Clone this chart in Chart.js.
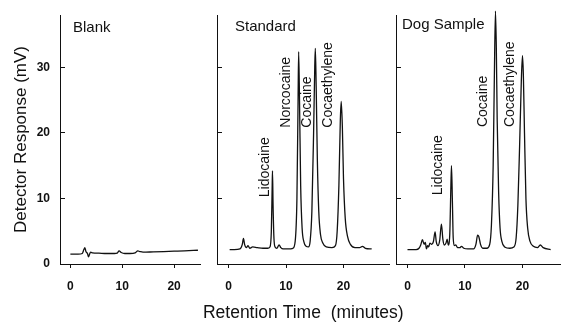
<!DOCTYPE html>
<html><head><meta charset="utf-8">
<script src="https://cdn.jsdelivr.net/npm/chart.js@4.4.1/dist/chart.umd.min.js"></script>
<style>
html,body{margin:0;padding:0;background:#fff;}
#wrap{position:relative;width:561px;height:324px;overflow:hidden;background:#fff;}
.p{position:absolute;top:0;}
canvas{display:block;}
</style></head><body>
<div id="wrap">
  <div class="p" style="left:0px"><canvas id="c1" width="205" height="324"></canvas></div>
  <div class="p" style="left:392px"><canvas id="c3" width="169" height="324"></canvas></div>
  <div class="p" style="left:105px"><canvas id="c2" width="360" height="324"></canvas></div>
</div>
<script>
// ---------- data ----------
const xTicks = [0, 10, 20];
const yTicks = [0, 10, 20, 30];
const panelTitles = ['Blank', 'Standard', 'Dog Sample'];

const blankTime = [0.0, 1.5, 2.3, 2.6, 2.8, 3.0, 3.3, 3.5, 3.7, 3.9, 4.3, 5.5, 7.0, 8.5, 9.0, 9.4, 9.8, 10.5, 11.5, 12.5, 13.0, 13.4, 14.0, 16.0, 18.0, 20.0, 22.0, 24.6];
const blankResp = [1.5, 1.5, 1.6, 2.2, 2.5, 1.9, 1.6, 1.1, 1.5, 1.8, 1.7, 1.65, 1.6, 1.6, 1.65, 2.0, 1.75, 1.6, 1.6, 1.7, 2.0, 1.9, 1.8, 1.85, 1.9, 1.95, 2.0, 2.1];

const standardTime = [0.2, 1.0, 2.0, 2.4, 2.6, 2.8, 3.1, 3.4, 3.7, 4.2, 5.0, 6.0, 6.8, 7.2, 7.45, 7.6, 7.65, 7.75, 7.9, 8.1, 8.4, 8.8, 9.1, 9.5, 10.5, 11.2, 11.6, 11.9, 12.1, 12.2, 12.35, 12.55, 12.8, 13.1, 13.5, 13.9, 14.2, 14.5, 14.8, 15.0, 15.1, 15.25, 15.45, 15.7, 16.0, 16.4, 17.0, 18.0, 18.6, 18.9, 19.2, 19.45, 19.6, 19.8, 20.0, 20.3, 20.7, 21.2, 22.0, 22.8, 23.3, 23.8, 24.9];
const standardResp = [2.2, 2.2, 2.3, 3.0, 3.9, 3.0, 2.5, 2.8, 2.4, 2.6, 2.5, 2.4, 2.4, 2.6, 5.0, 12.0, 14.2, 9.0, 4.0, 2.6, 2.4, 2.9, 2.5, 2.3, 2.3, 2.4, 3.5, 10.0, 25.0, 32.4, 25.0, 12.0, 5.5, 3.4, 2.7, 2.6, 3.5, 8.0, 20.0, 30.0, 32.9, 27.0, 16.0, 8.0, 4.5, 3.2, 2.6, 2.5, 2.8, 5.0, 12.0, 22.0, 24.8, 21.0, 13.0, 7.0, 4.2, 3.0, 2.5, 2.5, 2.7, 2.4, 2.3];
const standardPeaks = ['Lidocaine', 'Norcocaine', 'Cocaine', 'Cocaethylene'];

const dogTime = [0.0, 1.5, 2.0, 2.3, 2.6, 2.9, 3.1, 3.3, 3.5, 3.7, 3.9, 4.2, 4.5, 4.8, 5.0, 5.3, 5.6, 5.9, 6.15, 6.4, 6.7, 6.9, 7.1, 7.35, 7.55, 7.65, 7.8, 7.95, 8.15, 8.4, 8.7, 9.1, 9.4, 9.8, 10.5, 11.5, 11.9, 12.2, 12.4, 12.7, 13.1, 13.8, 14.3, 14.6, 14.9, 15.1, 15.3, 15.45, 15.6, 15.85, 16.1, 16.4, 16.9, 17.8, 18.5, 18.9, 19.2, 19.5, 19.8, 20.0, 20.15, 20.35, 20.6, 20.9, 21.3, 21.9, 22.6, 23.1, 23.6, 24.9];
const dogResp = [2.2, 2.2, 2.4, 2.9, 3.7, 3.0, 3.3, 2.3, 2.8, 2.6, 3.2, 3.0, 3.4, 4.9, 3.4, 2.8, 3.6, 6.1, 3.8, 2.9, 3.2, 3.8, 2.9, 4.5, 12.0, 15.0, 10.0, 4.0, 2.8, 2.9, 2.5, 2.5, 2.7, 2.4, 2.3, 2.3, 3.0, 4.4, 4.2, 3.0, 2.4, 2.4, 3.0, 6.0, 15.0, 28.0, 38.6, 33.0, 22.0, 11.0, 5.5, 3.5, 2.6, 2.4, 2.6, 4.0, 9.0, 18.0, 28.0, 31.8, 29.0, 20.0, 10.0, 5.5, 3.5, 2.7, 2.5, 2.9, 2.5, 2.2];
const dogPeaks = ['Lidocaine', 'Cocaine', 'Cocaethylene'];

// ---------- layout / style ----------
const FONT = '"Liberation Sans", Arial, Helvetica, sans-serif';
const INK = '#111';
Chart.defaults.font.family = FONT;
Chart.defaults.color = INK;

const panelText = {
  id: 'panelText',
  afterDraw(chart, args, o) {
    const {ctx, chartArea, scales} = chart;
    ctx.save();
    ctx.fillStyle = INK;
    ctx.font = '15px ' + FONT;
    ctx.textAlign = 'left';
    ctx.textBaseline = 'middle';
    ctx.fillText(o.title, chartArea.left + o.dx, chartArea.top + o.dy);
    ctx.font = '14px ' + FONT;
    (o.labels || []).forEach(l => {
      const px = scales.x.getPixelForValue(l.t);
      const py = scales.y.getPixelForValue(l.v);
      ctx.save();
      ctx.translate(px, py);
      ctx.rotate(-Math.PI / 2);
      ctx.textAlign = 'left';
      ctx.textBaseline = 'middle';
      ctx.fillText(l.name, 0, 0);
      ctx.restore();
    });
    if (o.xTitle) {
      ctx.font = '17.5px ' + FONT;
      ctx.textAlign = 'center';
      ctx.textBaseline = 'middle';
      ctx.fillText(o.xTitle, (chartArea.left + chartArea.right) / 2, chartArea.bottom + 49);
    }
    ctx.restore();
  }
};

function noEdgePad(s) {
  s.paddingTop = 0; s.paddingBottom = 0; s.paddingLeft = 0; s.paddingRight = 0;
}

function makePanel(id, time, resp, cfg) {
  const pts = time.map((t, i) => ({x: t, y: resp[i]}));
  return new Chart(document.getElementById(id), {
    type: 'line',
    data: {datasets: [{
      data: pts, borderColor: INK, borderWidth: 1.3, pointRadius: 0,
      cubicInterpolationMode: 'monotone', fill: false, clip: false
    }]},
    options: {
      responsive: false, animation: false, devicePixelRatio: 1,
      layout: {padding: {top: 15, right: cfg.padRight, left: 0, bottom: 0}},
      plugins: {legend: {display: false}, tooltip: {enabled: false},
        panelText: {title: cfg.title, dx: cfg.dx, dy: cfg.dy, labels: cfg.labels, xTitle: cfg.xTitle}},
      scales: {
        x: {
          type: 'linear', position: 'bottom', min: -2, max: cfg.xMax,
          grid: {drawOnChartArea: false, drawTicks: true, tickLength: 4, color: INK, lineWidth: 1},
          border: {display: true, color: INK, width: 1},
          ticks: {display: true, padding: 11, color: INK, font: {size: 12, weight: 'bold'}, maxRotation: 0},
          afterBuildTicks: s => { s.ticks = xTicks.map(v => ({value: v})); },
          afterFit: s => { s.height = 60; noEdgePad(s); }
        },
        y: {
          type: 'linear', position: 'left', min: 0, max: 38,
          grid: {drawOnChartArea: false, drawTicks: true, tickLength: -5, color: INK, lineWidth: 1},
          border: {display: true, color: INK, width: 1},
          ticks: {display: cfg.yLabels, padding: 15, color: INK, font: {size: 12, weight: 'bold'}},
          afterBuildTicks: s => { s.ticks = yTicks.map(v => ({value: v})); },
          afterFit: s => { s.width = cfg.yWidth; noEdgePad(s); },
          title: {display: !!cfg.yTitle, text: cfg.yTitle || '', color: INK,
            font: {size: 17}, padding: {top: 11, bottom: 0}}
        }
      }
    },
    plugins: [panelText]
  });
}

makePanel('c1', blankTime, blankResp, {
  title: panelTitles[0], dx: 13, dy: 13, labels: [],
  xMax: 25, padRight: 5, yWidth: 60, yLabels: true,
  yTitle: 'Detector Response (mV)'
});
makePanel('c2', standardTime, standardResp, {
  title: panelTitles[1], dx: 18, dy: 12,
  labels: [
    {name: standardPeaks[0], t: 6.4, v: 10.2},
    {name: standardPeaks[1], t: 10.0, v: 20.8},
    {name: standardPeaks[2], t: 13.6, v: 20.8},
    {name: standardPeaks[3], t: 17.3, v: 20.8}
  ],
  xMax: 28, padRight: 75.5, yWidth: 112, yLabels: false,
  xTitle: 'Retention Time  (minutes)'
});
makePanel('c3', dogTime, dogResp, {
  title: panelTitles[2], dx: 6, dy: 10,
  labels: [
    {name: dogPeaks[0], t: 5.3, v: 10.5},
    {name: dogPeaks[1], t: 13.1, v: 20.9},
    {name: dogPeaks[2], t: 17.8, v: 20.9}
  ],
  xMax: 26.7, padRight: 0, yWidth: 4, yLabels: false
});
</script>
</body></html>
